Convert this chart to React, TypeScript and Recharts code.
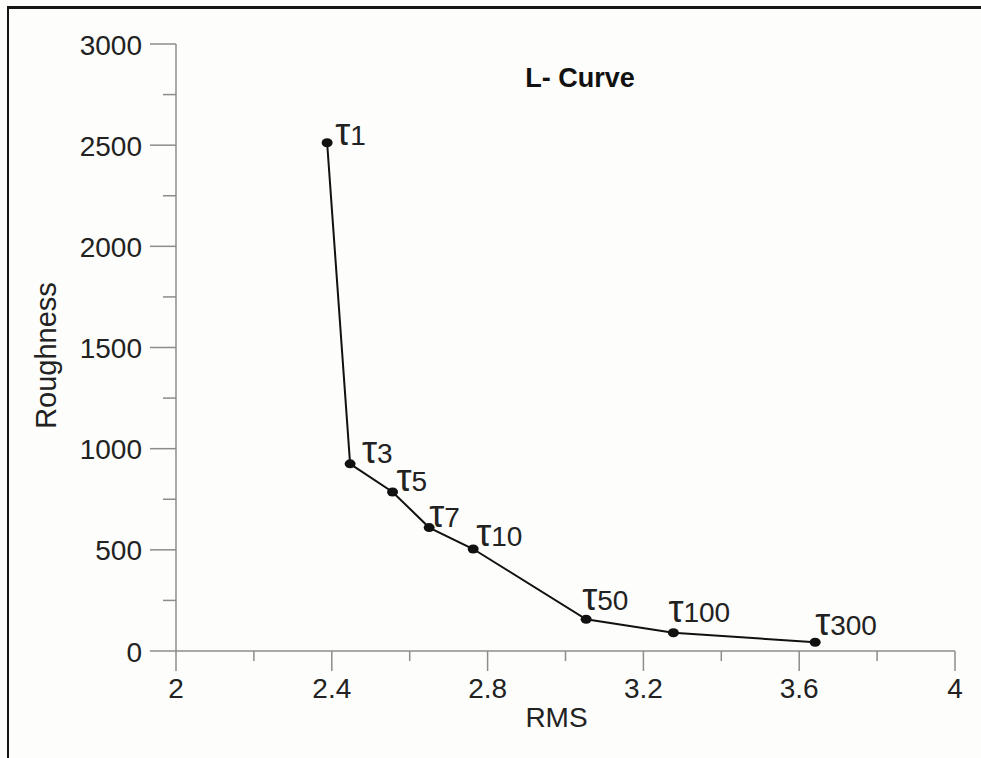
import React from 'react';
import { LineChart, Line, XAxis, YAxis, LabelList, Label } from 'recharts';

// values
const rmsValues = [2.388, 2.447, 2.556, 2.65, 2.763, 3.053, 3.277, 3.641];
const roughnessValues = [2512, 925, 786, 610, 504, 157, 90, 43];
const tauNames = ['1', '3', '5', '7', '10', '50', '100', '300'];

const xTicks = [2, 2.2, 2.4, 2.6, 2.8, 3, 3.2, 3.4, 3.6, 3.8, 4];
const xMajor = [2, 2.4, 2.8, 3.2, 3.6, 4];
const yTicks = [0, 250, 500, 750, 1000, 1250, 1500, 1750, 2000, 2250, 2500, 2750, 3000];
const yMajor = [0, 500, 1000, 1500, 2000, 2500, 3000];

// small nudges so the tau labels sit where they do in the original
const labelNudge = [[8, 2], [12, -1], [4, -1], [0, -1], [3, -3], [-4, -9], [-5, -11], [0, -7]];

const data = rmsValues.map((rms, i) => ({ rms, roughness: roughnessValues[i], name: tauNames[i] }));

const FONT = '"Liberation Sans", Arial, sans-serif';
const AXIS = '#8c8c8c';
const TEXT = '#222';

const isMajor = (list: number[], v: number) => list.some(m => Math.abs(m - v) < 1e-6);

const XTick = (props: any) => {
    const { x, y, payload } = props;
    const major = isMajor(xMajor, payload.value);
    return <g>
        <line x1={x} x2={x} y1={y} y2={y + (major ? 20 : 10)} stroke={AXIS} strokeWidth={1.5} />
        {major && <text x={x} y={y + 47} textAnchor='middle' fontSize={28} fontFamily={FONT} fill={TEXT}>
            {payload.value}
        </text>}
    </g>;
};

const YTick = (props: any) => {
    const { x, y, payload } = props;
    const major = isMajor(yMajor, payload.value);
    return <g>
        <line x1={x} x2={x - (major ? 26 : 13)} y1={y} y2={y} stroke={AXIS} strokeWidth={1.5} />
        {major && <text x={x - 34} y={y + 10.5} textAnchor='end' fontSize={28} fontFamily={FONT} fill={TEXT}>
            {payload.value}
        </text>}
    </g>;
};

const Dot = (props: any) => {
    const { cx, cy } = props;
    return <ellipse cx={cx} cy={cy} rx={5.5} ry={4.5} fill='#111' />;
};

const TauLabel = (props: any) => {
    const { x, y, value, index } = props;
    const [dx, dy] = labelNudge[index] || [4, -4];
    return <text x={x + dx} y={y + dy} fontFamily={FONT} fill={TEXT}>
        <tspan fontSize={38}>τ</tspan>
        <tspan fontSize={28}>{value}</tspan>
    </text>;
};

const App = () => {
    return (
        <div style={{ position: 'absolute', left: 0, top: 0, width: 981, height: 758, background: '#fdfdfb' }}>
            <div style={{
                position: 'absolute', left: 7, top: 6, right: 0, bottom: 0,
                borderTop: '3px solid #151515', borderLeft: '2px solid #151515',
            }} />
            <LineChart
                width={981}
                height={758}
                data={data}
                margin={{ top: 44, right: 26, left: 0, bottom: 0 }}
                style={{ position: 'absolute', left: 0, top: 0 }}
            >
                <XAxis
                    type='number'
                    dataKey='rms'
                    domain={[2, 4]}
                    ticks={xTicks}
                    interval={0}
                    height={107}
                    tickSize={0}
                    tickMargin={0}
                    tickLine={false}
                    axisLine={{ stroke: AXIS, strokeWidth: 1.5 }}
                    tick={<XTick />}
                >
                    <Label
                        content={({ viewBox }: any) => (
                            <text x={viewBox.x + viewBox.width / 2 - 9} y={viewBox.y + 76} textAnchor='middle'
                                fontSize={28} fontFamily={FONT} fill={TEXT}>RMS</text>
                        )}
                    />
                </XAxis>
                <YAxis
                    type='number'
                    domain={[0, 3000]}
                    ticks={yTicks}
                    interval={0}
                    width={176}
                    tickSize={0}
                    tickMargin={0}
                    tickLine={false}
                    axisLine={{ stroke: AXIS, strokeWidth: 1.5 }}
                    tick={<YTick />}
                >
                    <Label
                        content={({ viewBox }: any) => {
                            const cx = 56;
                            const cy = viewBox.y + viewBox.height / 2 + 8;
                            return <text x={cx} y={cy} textAnchor='middle'
                                transform={`rotate(-90 ${cx} ${cy})`}
                                fontSize={29} fontFamily={FONT} fill={TEXT}>Roughness</text>;
                        }}
                    />
                </YAxis>
                <Line
                    type='linear'
                    dataKey='roughness'
                    stroke='#111'
                    strokeWidth={2}
                    dot={<Dot />}
                    activeDot={false}
                    isAnimationActive={false}
                >
                    <LabelList dataKey='name' content={<TauLabel />} />
                </Line>
                <text x={580} y={87} textAnchor='middle' fontSize={27} fontWeight='bold' fontFamily={FONT} fill='#111'>
                    L- Curve
                </text>
            </LineChart>
        </div>
    );
};

export default App;
